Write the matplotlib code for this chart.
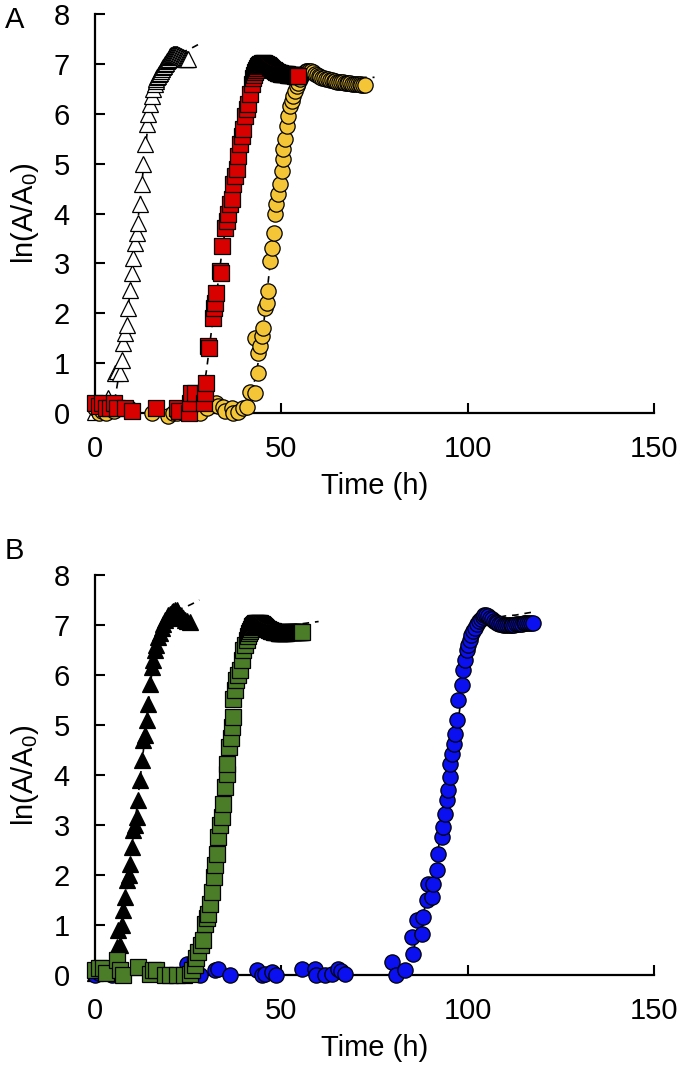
import matplotlib
matplotlib.use("Agg")
import matplotlib.pyplot as plt

plt.rcParams['font.family'] = ['Liberation Sans', 'DejaVu Sans']
plt.rcParams['mathtext.default'] = 'regular'

# ---------------- panel A ----------------
# open triangles
tri_a_x = [0, 3.5, 5.4, 6.0, 6.7, 7.2, 7.6, 8.0, 8.5, 8.9, 9.4, 9.8, 10.3, 10.7, 11.2, 11.6, 12.1, 12.5,
           13.0, 13.4, 13.9, 14.3, 14.8, 15.2, 15.6,
           16, 16.25, 16.5, 16.75, 17, 17.25, 17.5, 17.75, 18, 18.25, 18.5, 18.75, 19, 19.25, 19.5, 19.75,
           20, 20.25, 20.5, 20.75, 21, 21.25, 21.5, 21.75, 22, 22.25, 22.5, 22.75, 23, 23.25, 23.5, 23.75,
           24, 24.25, 24.5, 24.75, 25]
tri_a_y = [0.02, 0.3, 0.8, 0.85, 0.8, 1.06, 1.4, 1.6, 1.76, 2.1, 2.46, 2.8, 3.1, 3.4, 3.6, 3.8, 4.2, 4.6,
           5.0, 5.4, 5.8, 6.0, 6.2, 6.35, 6.5,
           6.6, 6.65, 6.7, 6.73, 6.76, 6.79, 6.82, 6.86, 6.9, 6.93, 6.96, 6.99, 7.02, 7.05, 7.08, 7.1,
           7.13, 7.15, 7.17, 7.18, 7.19, 7.2, 7.2, 7.2, 7.19, 7.18, 7.17, 7.16, 7.15, 7.14, 7.13, 7.12,
           7.11, 7.1, 7.1, 7.1, 7.1]
fit_tri_a_x = [4.5, 5.5, 6.5, 7.5, 8.5, 9.5, 10.5, 11.5, 12.5, 13.5, 14.5, 15.5, 16.5, 17.5, 18.5, 19.5,
               20.5, 22, 24, 26, 28]
fit_tri_a_y = [0.0, 0.35, 0.8, 1.3, 1.85, 2.5, 3.2, 3.85, 4.55, 5.3, 5.95, 6.4, 6.7, 6.9, 7.02, 7.1,
               7.15, 7.2, 7.25, 7.32, 7.4]

# red squares
sq_a_x = [0, 1, 2, 3, 4, 5, 6, 8, 10, 16.5, 21.9, 22.5, 25.3, 25.5, 25.7, 26.8, 29.3, 29.5, 29.7, 30.4,
          30.6, 31.7, 31.9, 32.2, 32.6, 33.5, 33.7, 34.0, 34.9, 35.3, 35.8, 36.2, 36.7, 37.1, 37.6, 38.0,
          38.5, 38.9, 39.4, 39.8, 40.2, 40.7, 41.1, 41.6, 42.0,
          42.5, 42.75, 43, 43.25, 43.5, 43.75, 44, 44.25, 44.5, 44.75, 45, 45.25, 45.5, 45.75, 46, 46.25,
          46.5, 46.75, 47, 47.25, 47.5, 47.75, 48, 48.25, 48.5, 48.75, 49, 49.25, 49.5, 49.75, 50, 50.25,
          50.5, 50.75, 51, 51.25, 51.5, 51.75, 52, 52.25, 52.5, 52.75, 53, 53.25, 53.5, 53.75, 54, 54.25,
          54.5]
sq_a_y = [0.2, 0.15, 0.2, 0.1, 0.1, 0.2, 0.1, 0.1, 0.05, 0.1, 0.1, 0.05, 0.0, 0.2, 0.4, 0.4, 0.2, 0.4, 0.6,
          1.35, 1.3, 1.9, 2.1, 2.2, 2.4, 2.85, 2.8, 3.35, 3.7, 3.85, 4.0, 4.2, 4.3, 4.6, 4.75, 4.9,
          5.15, 5.4, 5.55, 5.7, 5.95, 6.1, 6.2, 6.4, 6.6,
          6.72, 6.78, 6.84, 6.88, 6.92, 6.95, 6.97, 6.99, 7.0, 7.01, 7.01, 7.01, 7.0, 7.0, 6.99, 6.98,
          6.97, 6.95, 6.94, 6.92, 6.9, 6.88, 6.87, 6.85, 6.84, 6.83, 6.82, 6.82, 6.81, 6.81, 6.8, 6.8,
          6.8, 6.8, 6.79, 6.79, 6.79, 6.78, 6.78, 6.78, 6.78, 6.77, 6.77, 6.77, 6.77, 6.76, 6.76, 6.76,
          6.75]
fit_sq_a_x = [26, 27, 28, 29, 30, 31, 32, 33, 34, 35, 36, 37, 38, 39, 40, 41, 42, 43, 44, 45, 46, 48, 50,
              52, 54, 56, 58]
fit_sq_a_y = [0.05, 0.12, 0.22, 0.4, 0.9, 1.5, 2.1, 2.6, 3.2, 3.7, 4.15, 4.55, 4.95, 5.4, 5.85, 6.25, 6.6,
              6.85, 6.97, 7.0, 6.98, 6.9, 6.85, 6.85, 6.9, 6.95, 6.98]

# yellow circles
circ_a_x = [0, 1, 2, 3, 4, 5, 6, 9, 15.2, 19.6, 21, 22, 24, 27, 28.2, 30, 32.6, 33, 34.4, 35, 36.7, 37,
            38.5, 39.8, 40.7, 41.6, 42.9, 43.8, 42.9, 43.8, 44.3, 44.7, 45.2, 45.6, 46.1, 46.5, 47.0, 47.4,
            47.9, 48.3, 48.7, 49.2, 49.6, 50.1, 50.4, 50.5, 51.0, 51.4, 51.9, 52.3, 52.8, 53.2, 53.6, 54.1,
            54.5,
            55, 55.5, 56, 56.5, 57, 57.5, 58, 58.5, 59, 59.5, 60, 60.5, 61, 61.5, 62, 62.5, 63, 63.5, 64,
            64.5, 65, 65.5, 66, 66.5, 67, 67.5, 68, 68.5, 69, 69.5, 70, 70.5, 71, 71.5, 72, 72.5]
circ_a_y = [0.1, 0.0, 0.05, 0.0, 0.1, 0.05, 0.1, 0.1, 0.0, -0.05, 0.0, 0.0, 0.05, 0.05, 0.0, 0.1, 0.2, 0.15,
            0.13, 0.05, 0.1, 0.0, 0.02, 0.1, 0.13, 0.43, 0.4, 0.8, 1.5, 1.2, 1.35, 1.55, 1.7, 2.1, 2.2,
            2.45, 3.05, 3.3, 3.6, 4.0, 4.2, 4.4, 4.6, 4.85, 5.1, 5.3, 5.5, 5.75, 5.95, 6.15, 6.25, 6.35,
            6.45, 6.55, 6.62,
            6.7, 6.77, 6.82, 6.85, 6.86, 6.86, 6.85, 6.83, 6.8, 6.78, 6.76, 6.74, 6.72, 6.71, 6.7, 6.69,
            6.68, 6.67, 6.66, 6.65, 6.64, 6.64, 6.63, 6.63, 6.62, 6.62, 6.61, 6.61, 6.6, 6.6, 6.6, 6.59,
            6.59, 6.58, 6.58, 6.57]
fit_circ_a_x = [38, 40, 41, 42, 43, 44, 45, 46, 47, 48, 49, 50, 51, 52, 53, 54, 55, 56, 57, 58, 60, 62,
                65, 68, 72, 75]
fit_circ_a_y = [0.0, 0.1, 0.2, 0.4, 0.7, 1.1, 1.6, 2.3, 3.0, 3.7, 4.3, 4.85, 5.45, 6.0, 6.4, 6.65, 6.8,
                6.88, 6.88, 6.85, 6.8, 6.75, 6.72, 6.72, 6.73, 6.73]

# ---------------- panel B ----------------
# filled triangles
tri_b_x = [0, 1, 2, 3, 4, 5, 5.8, 6.3, 6.7, 7.2, 7.6, 8.05, 8.5, 9.0, 9.4, 9.8, 10.3, 10.7, 11.2, 11.6,
           12.1, 12.5, 13.0, 13.4, 13.9, 14.3, 14.8, 15.2, 15.6, 16.1, 16.5, 17.0, 17.4, 17.9, 18.3, 18.8,
           19.2, 19.7, 20.1, 20.6, 21.0, 21.5, 21.9, 22.4, 22.8, 23.3, 23.7, 24.2, 24.6, 25.5]
tri_b_y = [0.05, 0.1, 0.15, 0.15, 0.1, 0.15, 0.57, 0.9, 0.6, 1.0, 1.3, 1.57, 1.9, 2.0, 2.23, 2.57, 2.9, 3.0,
           3.17, 3.5, 3.9, 4.3, 4.7, 4.8, 5.1, 5.43, 5.83, 6.17, 6.3, 6.5, 6.6, 6.77, 6.85, 6.95, 7.03,
           7.1, 7.15, 7.2, 7.23, 7.27, 7.28, 7.3, 7.3, 7.25, 7.2, 7.17, 7.15, 7.1, 7.08, 7.07]
fit_tri_b_x = [4, 5, 6, 7, 8, 9, 10, 11, 12, 13, 14, 15, 16, 17, 18, 19, 20, 21, 22, 24, 26, 28]
fit_tri_b_y = [0.0, 0.2, 0.55, 0.95, 1.45, 2.0, 2.6, 3.2, 3.85, 4.5, 5.2, 5.9, 6.4, 6.75, 6.97, 7.1, 7.2,
               7.26, 7.3, 7.35, 7.42, 7.5]

# green squares
sq_b_x = [0, 1, 2.2, 3, 5.8, 6.7, 7.6, 11.6, 14.8, 15.5, 16.5, 18.8, 20, 21.9, 24, 25.5, 26, 26.8, 27.2,
          27.7, 28.5, 29.1, 29.5, 30.0, 30.4, 30.9, 31.3, 31.8, 32.2, 32.7, 33.1, 33.6, 34.0, 34.4, 34.9,
          35.3, 35.5, 36.0, 36.4, 36.7, 36.9, 37.1, 37.5, 37.8, 38.4, 38.9, 39.4, 39.8, 40.2, 40.7,
          41, 41.25, 41.5, 41.75, 42, 42.25, 42.5, 42.75, 43, 43.25, 43.5, 43.75, 44, 44.25, 44.5, 44.75,
          45, 45.25, 45.5, 45.75, 46, 46.25, 46.5, 46.75, 47, 47.25, 47.5, 47.75, 48, 48.25, 48.5, 48.75,
          49, 49.25, 49.5, 49.75, 50, 50.25, 50.5, 50.75, 51, 51.25, 51.5, 51.75, 52, 52.25, 52.5, 52.75,
          53, 53.25, 53.5, 53.75, 54, 54.25, 54.5, 54.75, 55, 55.25, 55.5]
sq_b_y = [0.1, 0.15, 0.15, 0.05, 0.3, 0.1, 0.0, 0.17, 0.03, 0.1, 0.1, 0.0, 0.0, 0.0, 0.0, 0.03, 0.1, 0.2, 0.35,
          0.47, 0.6, 0.7, 1.03, 1.15, 1.23, 1.43, 1.67, 1.97, 2.2, 2.43, 2.77, 3.0, 3.17, 3.43, 3.77,
          4.03, 4.23, 4.57, 4.75, 4.97, 5.17, 5.53, 5.7, 5.9, 6.0, 6.1, 6.3, 6.5, 6.6, 6.7,
          6.78, 6.84, 6.89, 6.93, 6.96, 6.99, 7.01, 7.03, 7.04, 7.05, 7.05, 7.05, 7.05, 7.04, 7.03, 7.02,
          7.0, 6.99, 6.97, 6.96, 6.94, 6.93, 6.92, 6.91, 6.9, 6.89, 6.88, 6.88, 6.87, 6.87, 6.86, 6.86,
          6.86, 6.85, 6.85, 6.85, 6.85, 6.85, 6.85, 6.85, 6.85, 6.85, 6.86, 6.86, 6.86, 6.86, 6.86, 6.86,
          6.86, 6.87, 6.87, 6.87, 6.87, 6.87, 6.87, 6.87, 6.87, 6.87, 6.87]
fit_sq_b_x = [24, 26, 27, 28, 29, 30, 31, 32, 33, 34, 35, 36, 37, 38, 39, 40, 41, 42, 43, 44, 46, 48, 50,
              53, 56, 60]
fit_sq_b_y = [0.0, 0.1, 0.25, 0.5, 0.85, 1.2, 1.6, 2.05, 2.6, 3.2, 3.85, 4.5, 5.2, 5.85, 6.35, 6.65, 6.85,
              6.97, 7.03, 7.05, 7.0, 6.95, 6.95, 7.0, 7.03, 7.07]

# blue circles
circ_b_x = [0, 1, 4.5, 24.6, 28.2, 32.2, 33, 36.2, 43.4, 44.7, 45.5, 47.4, 48.7, 55.5, 59, 59.2, 61.7,
            63.5, 65.3, 66, 67.1, 79.6, 80.9, 83.2, 85.4, 85.0, 86.3, 87.7, 88.1, 89.0, 89.4, 90.3, 90.8,
            91.7, 92.1, 93.0, 93.5, 93.9, 94.4, 94.8, 95.3, 95.3, 95.7, 96.2, 96.6, 97.1, 97.5, 98.4, 98.8,
            99.3, 99.7, 100.2, 100.6,
            101, 101.5, 102, 102.5, 103, 103.5, 104, 104.5, 105, 105.5, 106, 106.5, 107, 107.5, 108,
            108.5, 109, 109.5, 110, 110.5, 111, 111.5, 112, 112.5, 113, 113.5, 114, 114.5, 115, 115.5,
            116, 116.5, 117, 117.5]
circ_b_y = [0.0, 0.05, 0.0, 0.23, 0.0, 0.1, 0.13, 0.0, 0.1, 0.0, 0.03, 0.07, 0.0, 0.13, 0.13, 0.0, 0.0,
            0.03, 0.13, 0.08, 0.03, 0.27, 0.0, 0.1, 0.43, 0.77, 1.1, 0.83, 1.17, 1.5, 1.83, 1.57, 1.83,
            2.1, 2.43, 2.77, 2.97, 3.23, 3.5, 3.7, 3.97, 4.23, 4.43, 4.63, 4.83, 5.1, 5.5, 5.8, 6.1,
            6.3, 6.5, 6.6, 6.7,
            6.8, 6.88, 6.95, 7.02, 7.08, 7.13, 7.17, 7.2, 7.2, 7.18, 7.15, 7.12, 7.09, 7.06, 7.04,
            7.03, 7.02, 7.01, 7.0, 7.0, 7.0, 7.0, 7.01, 7.01, 7.02, 7.02, 7.03, 7.03, 7.04, 7.04,
            7.04, 7.05, 7.05, 7.05]
fit_circ_b_x = [80, 83, 85, 87, 89, 91, 93, 95, 97, 98, 99, 100, 101, 102, 103, 104, 105, 106, 108, 110,
                113, 116, 118.5]
fit_circ_b_y = [0.0, 0.1, 0.4, 0.9, 1.5, 2.15, 2.85, 3.7, 4.8, 5.4, 6.0, 6.4, 6.65, 6.75, 6.85, 6.95, 7.05,
                7.12, 7.15, 7.18, 7.2, 7.24, 7.27]

x_ticks = [0, 50, 100, 150]
y_ticks = [0, 1, 2, 3, 4, 5, 6, 7, 8]

RED = '#d90000'
YELLOW = '#f3c537'
GREEN = '#4b7d28'
BLUE = '#0a10f0'
FS = 21


def style_axis(ax):
    ax.set_xlim(0, 150)
    ax.set_ylim(0, 8)
    ax.set_xticks(x_ticks)
    ax.set_yticks(y_ticks)
    for side in ['top', 'right']:
        ax.spines[side].set_visible(False)
    for side in ['left', 'bottom']:
        ax.spines[side].set_linewidth(1.6)
    ax.tick_params(direction='in', length=7, width=1.5, labelsize=FS)
    ax.tick_params(axis='y', pad=18)
    ax.tick_params(axis='x', pad=16)
    ax.set_xlabel('Time (h)', fontsize=FS, labelpad=6)
    ax.set_ylabel('ln(A/A$_0$)', fontsize=FS, labelpad=9)


def fit_line(ax, x, y):
    ax.plot(x, y, color='black', linestyle=(0, (4, 3.5)), linewidth=1.2, zorder=2, clip_on=False)


def points(ax, x, y, marker, face, size=11):
    ax.plot(x, y, linestyle='none', marker=marker, markersize=size, markerfacecolor=face,
            markeredgecolor='black', markeredgewidth=0.9, zorder=3, clip_on=False)


fig = plt.figure(figsize=(6.8, 10.77), dpi=100)
ax_a = fig.add_axes([0.1397, 0.6165, 0.8221, 0.3705])
ax_b = fig.add_axes([0.1397, 0.0947, 0.8221, 0.3714])

fit_line(ax_a, fit_tri_a_x, fit_tri_a_y)
fit_line(ax_a, fit_sq_a_x, fit_sq_a_y)
fit_line(ax_a, fit_circ_a_x, fit_circ_a_y)
points(ax_a, tri_a_x, tri_a_y, '^', 'white', 12)
points(ax_a, circ_a_x, circ_a_y, 'o', YELLOW)
points(ax_a, sq_a_x, sq_a_y, 's', RED)
style_axis(ax_a)

fit_line(ax_b, fit_tri_b_x, fit_tri_b_y)
fit_line(ax_b, fit_sq_b_x, fit_sq_b_y)
fit_line(ax_b, fit_circ_b_x, fit_circ_b_y)
points(ax_b, tri_b_x, tri_b_y, '^', 'black', 11)
points(ax_b, circ_b_x, circ_b_y, 'o', BLUE)
points(ax_b, sq_b_x, sq_b_y, 's', GREEN)
style_axis(ax_b)

fig.text(0.007, 0.994, 'A', fontsize=FS, va='top', ha='left')
fig.text(0.007, 0.501, 'B', fontsize=FS, va='top', ha='left')

fig.savefig('out.png', dpi=100)
